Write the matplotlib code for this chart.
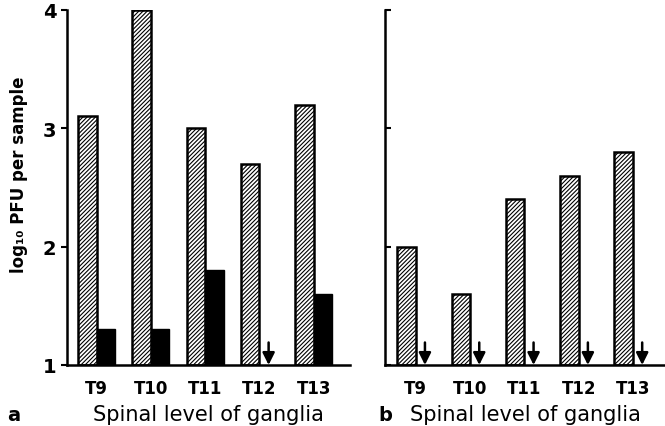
import matplotlib
matplotlib.use("Agg")
import matplotlib.pyplot as plt
import numpy as np

# data (log10 PFU per sample)
levels = ["T9", "T10", "T11", "T12", "T13"]
a_hatched = [3.1, 4.0, 3.0, 2.7, 3.2]
a_black = [1.3, 1.3, 1.8, None, 1.6]   # None = below detection (arrow)
b_hatched = [2.0, 1.6, 2.4, 2.6, 2.8]
b_black = [None, None, None, None, None]

plt.rcParams["hatch.linewidth"] = 0.8
plt.rcParams["font.family"] = "DejaVu Sans"

BASE = 1.0
W = 0.34


def draw_panel(ax, hatched, black, letter, xlim, tick_dir):
    x = np.arange(len(levels))
    hv = np.array(hatched) - BASE
    ax.bar(x - W / 2, hv, W, bottom=BASE, facecolor="white",
           edgecolor="black", linewidth=1.8, hatch="////////")
    for xi, v in zip(x, black):
        if v is None:
            ax.annotate("", xy=(xi + W / 2, BASE), xytext=(xi + W / 2, BASE + 0.19),
                        arrowprops=dict(arrowstyle="-|>", color="black", lw=1.8,
                                        mutation_scale=18, shrinkA=0, shrinkB=0))
        else:
            ax.bar(xi + W / 2, v - BASE, W, bottom=BASE, color="black",
                   edgecolor="black", linewidth=1.0)
    ax.set_xlim(*xlim)
    ax.set_ylim(1, 4)
    ax.set_yticks([1, 2, 3, 4])
    ax.set_xticks(x)
    ax.set_xticklabels(levels, fontsize=12, fontweight="bold")
    ax.tick_params(axis="x", length=0, pad=10)
    ax.tick_params(axis="y", direction=tick_dir, length=4, width=1.5)
    for s in ["top", "right"]:
        ax.spines[s].set_visible(False)
    for s in ["left", "bottom"]:
        ax.spines[s].set_linewidth(1.8)
    ax.set_xlabel("Spinal level of ganglia", fontsize=15, labelpad=5)
    ax.text(-0.19 if letter == "a" else 0.0, -0.14, letter,
            transform=ax.transAxes, fontsize=14, fontweight="bold",
            ha="center", va="center")


fig = plt.figure(figsize=(6.65, 4.27), dpi=100)
ax1 = fig.add_axes([0.1008, 0.1429, 0.4256, 0.8314])
ax2 = fig.add_axes([0.5789, 0.1429, 0.4211, 0.8314])

draw_panel(ax1, a_hatched, a_black, "a", (-0.543, 4.67), "out")
draw_panel(ax2, b_hatched, b_black, "b", (-0.566, 4.59), "in")

ax1.set_yticklabels(["1", "2", "3", "4"], fontsize=14, fontweight="bold")
ax1.set_ylabel("log₁₀ PFU per sample", fontsize=12, fontweight="bold")
ax1.yaxis.set_label_coords(-0.138, 0.54)
ax2.set_yticklabels([])

fig.savefig("out.png", dpi=100)
